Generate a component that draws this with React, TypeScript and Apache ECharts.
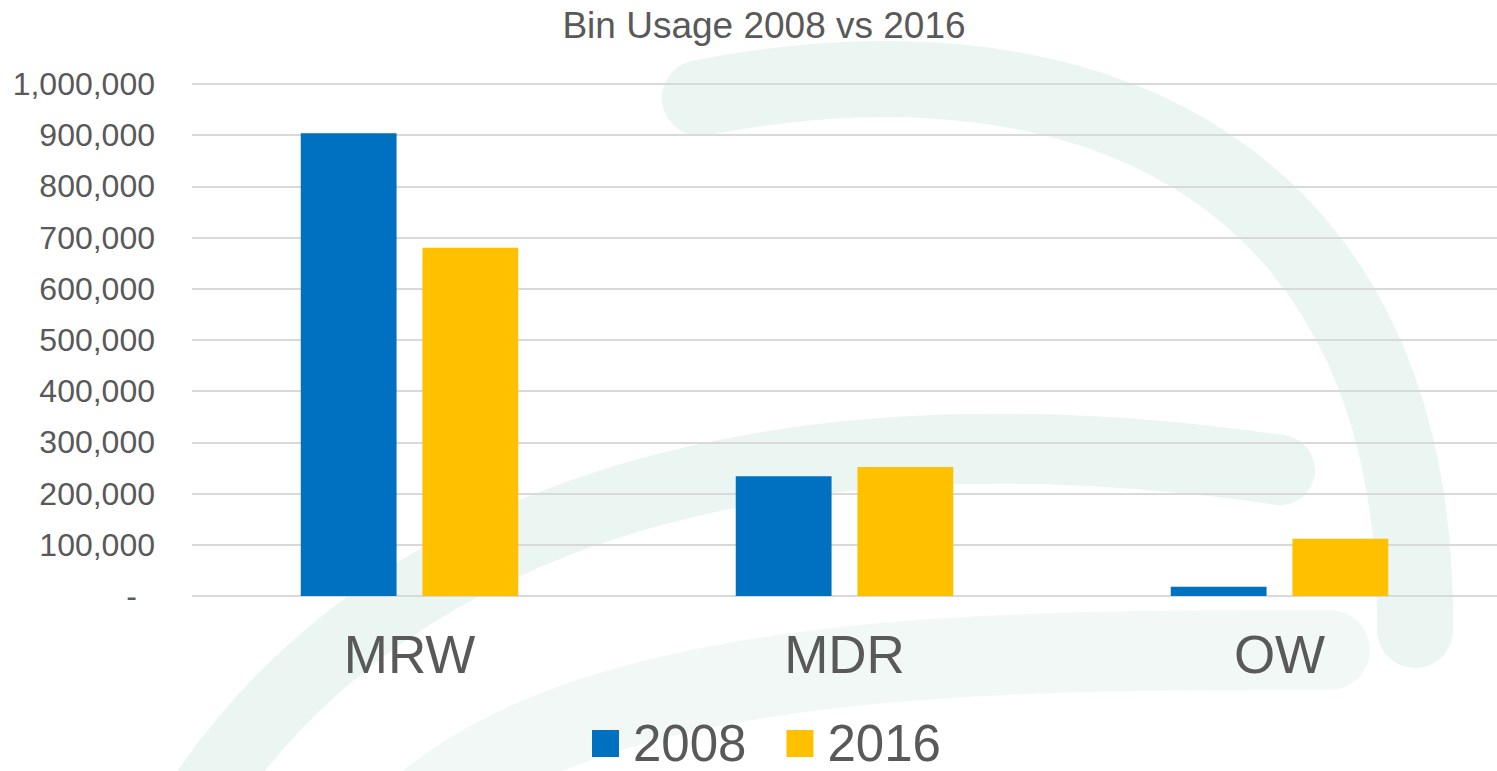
import React, { useEffect, useRef } from "react";
import * as echarts from "echarts";

const categories = ["MRW", "MDR", "OW"];
const series2008 = [904000, 234000, 18000];
const series2016 = [680000, 252000, 112000];
const seriesNames = ["2008", "2016"];
const titleText = "Bin Usage 2008 vs 2016";

const TEXT = "#595959";
const WM = "#EBF5F2";
const FONT = "Liberation Sans, Arial, sans-serif";

export default function App() {
  const ref = useRef<HTMLDivElement>(null);
  useEffect(() => {
    if (!ref.current) return;
    const chart = echarts.init(ref.current, undefined, { renderer: "svg" });
    const wm = (shape: any, width: number, color: string) => ({
      type: "bezierCurve",
      z: -10,
      silent: true,
      shape,
      style: { stroke: color, lineWidth: width, fill: null, lineCap: "round" },
    });
    chart.setOption({
      animation: false,
      backgroundColor: "#ffffff",
      textStyle: { fontFamily: FONT },
      title: {
        text: titleText,
        left: 759,
        textAlign: "center",
        top: 2,
        textStyle: { color: TEXT, fontSize: 37, fontWeight: "normal", fontFamily: FONT },
      },
      graphic: [
        wm({ x1: 700, y1: 98, cpx1: 1100, cpy1: 20, cpx2: 1420, cpy2: 180, x2: 1415, y2: 630 }, 76, WM),
        wm({ x1: 200, y1: 800, cpx1: 400, cpy1: 500, cpx2: 800, cpy2: 400, x2: 1280, y2: 470 }, 70, WM),
        wm({ x1: 430, y1: 800, cpx1: 620, cpy1: 650, cpx2: 1000, cpy2: 650, x2: 1330, y2: 650 }, 80, "#F2F8F6"),
      ],
      legend: {
        data: seriesNames,
        bottom: 2,
        left: 592,
        padding: 0,
        itemWidth: 27,
        itemHeight: 27,
        itemGap: 40,
        icon: "rect",
        textStyle: { color: TEXT, fontSize: 51, lineHeight: 40, padding: [0, 0, 0, 9], fontFamily: FONT },
      },
      grid: { left: 192, right: 0, top: 84, bottom: 175, containLabel: false },
      xAxis: {
        type: "category",
        data: categories,
        axisLine: { show: false },
        axisTick: { show: false },
        axisLabel: { color: TEXT, fontSize: 53, margin: 32, fontFamily: FONT },
      },
      yAxis: {
        type: "value",
        min: 0,
        max: 1000000,
        interval: 100000,
        axisLine: { show: false },
        axisTick: { show: false },
        splitLine: { lineStyle: { color: "#D9D9D9", width: 2 } },
        axisLabel: {
          color: TEXT,
          fontSize: 32,
          margin: 37,
          fontFamily: FONT,
          formatter: (v: number) => (v === 0 ? "{z|-}" : v.toLocaleString("en-US")),
          rich: { z: { color: TEXT, fontSize: 32, fontFamily: FONT, padding: [0, 18, 0, 0] } },
        },
      },
      series: [
        {
          name: seriesNames[0],
          type: "bar",
          data: series2008,
          itemStyle: { color: "#0070C0" },
          barGap: "27%",
          barCategoryGap: "50%",
        },
        {
          name: seriesNames[1],
          type: "bar",
          data: series2016,
          itemStyle: { color: "#FFC000" },
          barGap: "27%",
          barCategoryGap: "50%",
        },
      ],
    });
    return () => chart.dispose();
  }, []);
  return (
    <div
      ref={ref}
      style={{ position: "fixed", left: 0, top: 0, width: 1497, height: 771 }}
    />
  );
}
